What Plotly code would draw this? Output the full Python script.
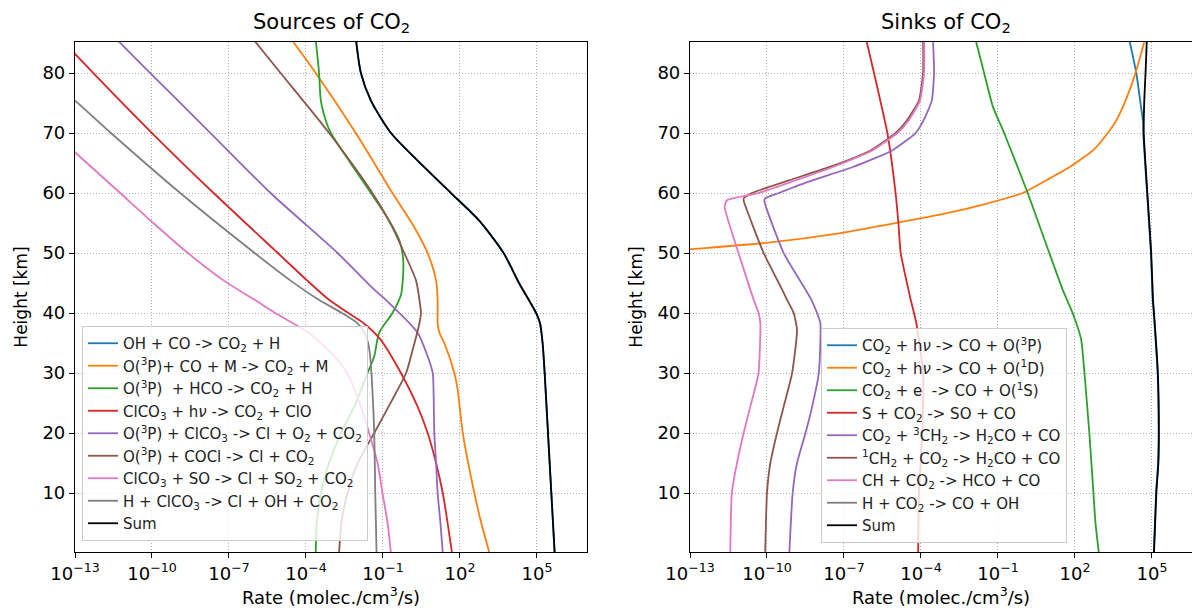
import numpy as np
import plotly.graph_objects as go

# ---------------- data (heights in km, rates given as log10 of molec./cm3/s) ----------------
# Sources of CO2
src_labels = [
    "OH + CO -&gt; CO<sub>2</sub> + H",
    "O(<sup>3</sup>P)+ CO + M -&gt; CO<sub>2</sub> + M",
    "O(<sup>3</sup>P)  + HCO -&gt; CO<sub>2</sub> + H",
    "ClCO<sub>3</sub> + h<i>ν</i> -&gt; CO<sub>2</sub> + ClO",
    "O(<sup>3</sup>P) + ClCO<sub>3</sub> -&gt; Cl + O<sub>2</sub> + CO<sub>2</sub>",
    "O(<sup>3</sup>P) + COCl -&gt; Cl + CO<sub>2</sub>",
    "ClCO<sub>3</sub> + SO -&gt; Cl + SO<sub>2</sub> + CO<sub>2</sub>",
    "H + ClCO<sub>3</sub> -&gt; Cl + OH + CO<sub>2</sub>",
    "Sum",
]
src_sum_h = [0, 10, 20, 30, 35, 38.3, 40, 42.2, 45, 50, 55.4, 60, 65.4, 70, 75.4, 80, 85.5]
src_sum_v = [5.69, 5.56, 5.43, 5.30, 5.22, 5.12, 4.97, 4.68, 4.30, 3.70, 2.75, 1.65, 0.35, -0.69, -1.47, -1.86, -2.05]
src_oh_h = src_sum_h
src_oh_v = src_sum_v
src_o3p_m_h = [0, 5, 10, 20, 27.2, 30, 35, 36.7, 38.3, 40, 42.2, 45.4, 50, 54.3, 60, 70, 80, 85.5]
src_o3p_m_v = [3.15, 2.83, 2.56, 2.11, 1.91, 1.78, 1.39, 1.20, 1.13, 1.13, 1.13, 1.07, 0.74, 0.22, -0.63, -2.06, -3.62, -4.55]
src_hco_h = [0, 5, 10, 15, 20, 24.4, 30, 32.8, 36.7, 40, 43, 45.4, 48.8, 52.1, 55.4, 60, 64.9, 70, 71.6, 75.4, 80, 85.5]
src_hco_v = [-3.62, -3.58, -3.42, -3.10, -2.64, -2.12, -1.60, -1.34, -1.15, -0.63, -0.30, -0.23, -0.21, -0.36, -0.76, -1.47, -2.25, -3.03, -3.19, -3.42, -3.49, -3.62]
src_clco3_hv_h = [0, 5, 10, 15, 20, 24.4, 30, 35.6, 38.3, 40, 42.2, 45.4, 50, 60, 70, 83.2, 85.5]
src_clco3_hv_v = [1.69, 1.52, 1.33, 1.07, 0.74, 0.35, -0.30, -1.10, -1.75, -2.35, -3.10, -3.95, -5.10, -7.60, -10.00, -13.0, -13.5]
src_o3p_clco3_h = [0, 5, 10, 15, 20, 27.2, 30, 32.8, 36.7, 40, 42.2, 43.9, 50, 60, 70, 80, 85.5]
src_o3p_clco3_v = [1.33, 1.24, 1.13, 1.07, 1.00, 0.97, 0.94, 0.74, 0.35, -0.36, -0.89, -1.34, -2.77, -5.38, -7.72, -10.07, -11.35]
src_cocl_h = [0, 5, 10, 15, 20, 25.6, 30, 32.8, 38.3, 40, 42.2, 45.4, 50, 54.3, 60, 70, 80, 85.5]
src_cocl_v = [-2.71, -2.62, -2.38, -1.99, -1.34, -0.63, -0.10, 0.09, 0.42, 0.48, 0.42, 0.29, -0.17, -0.63, -1.41, -3.10, -4.99, -6.03]
src_so_h = [0, 5, 10, 15, 20, 24.4, 30, 32.8, 36.7, 40, 42.2, 45.4, 50, 55, 60, 66.8, 75, 85.5]
src_so_v = [-0.69, -0.82, -1.02, -1.21, -1.54, -1.86, -2.40, -2.90, -3.90, -5.20, -6.00, -7.20, -8.60, -9.95, -11.24, -13.0, -15.1, -17.8]
src_h_clco3_h = [0, 10, 20, 27, 32.8, 35, 36.7, 38.3, 40, 42.2, 45.4, 50, 60, 70, 75.4, 85.5]
src_h_clco3_v = [-1.25, -1.30, -1.34, -1.41, -1.50, -1.58, -1.72, -2.00, -2.60, -3.50, -4.60, -6.00, -8.90, -11.60, -13.0, -15.9]

# Sinks of CO2
snk_labels = [
    "CO<sub>2</sub> + h<i>ν</i> -&gt; CO + O(<sup>3</sup>P)",
    "CO<sub>2</sub> + h<i>ν</i> -&gt; CO + O(<sup>1</sup>D)",
    "CO<sub>2</sub> + e  -&gt; CO + O(<sup>1</sup>S)",
    "S + CO<sub>2</sub> -&gt; SO + CO",
    "CO<sub>2</sub> + <sup>3</sup>CH<sub>2</sub> -&gt; H<sub>2</sub>CO + CO",
    "<sup>1</sup>CH<sub>2</sub> + CO<sub>2</sub> -&gt; H<sub>2</sub>CO + CO",
    "CH + CO<sub>2</sub> -&gt; HCO + CO",
    "H + CO<sub>2</sub> -&gt; CO + OH",
    "Sum",
]
snk_o3p_h = [0, 10, 15, 20, 30, 40, 42.2, 50, 60, 70, 71.6, 75.4, 80, 85.5]
snk_o3p_v = [5.07, 5.16, 5.24, 5.26, 5.22, 5.07, 5.03, 4.96, 4.81, 4.66, 4.66, 4.54, 4.39, 4.12]
snk_o1d_h = [50.0, 50.6, 51.8, 53.2, 55, 56.6, 58.2, 60, 62.1, 64.3, 67.1, 70, 72.1, 75.4, 80, 85.5]
snk_o1d_v = [-14.6, -13.0, -9.80, -7.33, -4.99, -3.03, -1.47, -0.04, 0.87, 1.78, 2.70, 3.28, 3.61, 3.97, 4.36, 4.72]
snk_o1s_h = [0, 5, 10, 20, 30, 35.6, 40, 43.9, 50, 60, 70, 74.4, 80, 85.5]
snk_o1s_v = [2.93, 2.80, 2.72, 2.56, 2.37, 2.24, 1.91, 1.52, 1.00, 0.16, -0.76, -1.20, -1.54, -1.87]
snk_s_h = [0, 10, 20, 30, 38.3, 42.2, 43.9, 50, 55, 60, 70, 80, 85.5]
snk_s_v = [-4.11, -4.08, -3.95, -3.92, -4.18, -4.40, -4.49, -4.79, -4.88, -4.99, -5.31, -5.83, -6.13]
snk_3ch2_h = [0, 10, 15, 20, 24.4, 30, 38.3, 40, 42.2, 43.9, 50, 58.6, 59.1, 60, 62.1, 64.3, 67.1, 70, 72.1, 75.4, 80, 85.5]
snk_3ch2_v = [-9.13, -9.00, -8.83, -8.50, -8.24, -7.98, -7.92, -8.05, -8.27, -8.50, -9.35, -10.10, -10.07, -9.54, -8.24, -6.68, -5.12, -4.21, -3.90, -3.58, -3.49, -3.53]
snk_1ch2_h = [0, 10, 15, 20, 24.4, 30, 37.2, 40, 42.2, 43.9, 50, 58.6, 59.1, 60, 62.1, 64.3, 67.1, 70, 72.1, 75.4, 80, 85.5]
snk_1ch2_v = [-10.07, -10.00, -9.87, -9.61, -9.35, -9.02, -8.83, -8.96, -9.22, -9.41, -10.13, -10.90, -10.91, -10.59, -9.15, -7.59, -5.96, -4.99, -4.55, -4.08, -3.92, -3.92]
snk_ch_h = [0, 10, 15, 20, 24.4, 30, 38.3, 40, 42.2, 43.9, 50, 57.7, 58.8, 60, 62.1, 64.3, 67.1, 70, 72.1, 75.4, 80, 85.5]
snk_ch_v = [-11.43, -11.37, -11.17, -10.91, -10.65, -10.33, -10.26, -10.33, -10.52, -10.65, -11.11, -11.65, -11.56, -10.33, -8.89, -7.46, -5.90, -4.92, -4.48, -4.04, -3.88, -3.88]
snk_h_h = [0, 20, 40, 60, 85.5]
snk_h_v = [-16.5, -16.3, -16.0, -16.2, -16.5]
snk_sum_h = [0, 10, 15, 20, 30, 40, 42.2, 50, 60, 70, 75.4, 80, 85.5]
snk_sum_v = [5.08, 5.17, 5.25, 5.27, 5.23, 5.08, 5.04, 4.97, 4.82, 4.68, 4.70, 4.75, 4.80]

colors = ["#1f77b4", "#ff7f0e", "#2ca02c", "#d62728", "#9467bd",
          "#8c564b", "#e377c2", "#7f7f7f", "#000000"]

src_series = [(src_oh_h, src_oh_v), (src_o3p_m_h, src_o3p_m_v), (src_hco_h, src_hco_v),
              (src_clco3_hv_h, src_clco3_hv_v), (src_o3p_clco3_h, src_o3p_clco3_v),
              (src_cocl_h, src_cocl_v), (src_so_h, src_so_v), (src_h_clco3_h, src_h_clco3_v),
              (src_sum_h, src_sum_v)]
snk_series = [(snk_o3p_h, snk_o3p_v), (snk_o1d_h, snk_o1d_v), (snk_o1s_h, snk_o1s_v),
              (snk_s_h, snk_s_v), (snk_3ch2_h, snk_3ch2_v), (snk_1ch2_h, snk_1ch2_v),
              (snk_ch_h, snk_ch_v), (snk_h_h, snk_h_v), (snk_sum_h, snk_sum_v)]

xtick_exps = [-13, -10, -7, -4, -1, 2, 5]
ytick_vals = [10, 20, 30, 40, 50, 60, 70, 80]

# ---------------- figure ----------------
fig = go.Figure()
FONT = "DejaVu Sans"

for i, (lab, (h, v)) in enumerate(zip(src_labels, src_series)):
    fig.add_trace(go.Scatter(x=10.0 ** np.array(v), y=h, mode="lines", name=lab,
                             line=dict(color=colors[i], width=1.8, shape="spline", smoothing=0.7),
                             xaxis="x", yaxis="y", legend="legend"))
for i, (lab, (h, v)) in enumerate(zip(snk_labels, snk_series)):
    fig.add_trace(go.Scatter(x=10.0 ** np.array(v), y=h, mode="lines", name=lab,
                             line=dict(color=colors[i], width=1.8, shape="spline", smoothing=0.5),
                             xaxis="x2", yaxis="y2", legend="legend2"))

W, H = 1192, 610
ML, MR, MT, MB = 75, 0, 42, 58
PW = W - ML - MR
PH = H - MT - MB
px_per_dec = 512 / 19.95
left_dom = [0, 512 / PW]
right_dom = [615 / PW, 1]
right_end = -13 + (PW - 615) / px_per_dec

tickvals = [10.0 ** e for e in xtick_exps]
ticktext = ["10<sup>%s</sup>" % (str(e).replace("-", "\u2212")) for e in xtick_exps]

axis_common = dict(showline=True, linecolor="black", linewidth=1.2,
                   ticks="outside", ticklen=5, tickwidth=1.2, tickcolor="black",
                   showgrid=True, gridcolor="#b0b0b0", griddash="1px,2px", gridwidth=1,
                   zeroline=False, tickfont=dict(family=FONT, size=18, color="black"))

xtitle = dict(text="Rate (molec./cm<sup>3</sup>/s)", font=dict(family=FONT, size=18), standoff=8)
ytitle = dict(text="Height [km]", font=dict(family=FONT, size=17), standoff=10)

fig.update_layout(
    width=W, height=H,
    margin=dict(l=ML, r=MR, t=MT, b=MB),
    paper_bgcolor="white", plot_bgcolor="white",
    font=dict(family=FONT, color="black"),
    showlegend=True,
    xaxis=dict(type="log", domain=left_dom, range=[-13, -13 + 19.95], mirror=True,
               tickvals=tickvals, ticktext=ticktext, anchor="y", title=xtitle, **axis_common),
    xaxis2=dict(type="log", domain=right_dom, range=[-13, right_end], mirror=True,
                tickvals=tickvals, ticktext=ticktext, anchor="y2", title=xtitle, **axis_common),
    yaxis=dict(range=[0.17, 85.17], tickvals=ytick_vals, anchor="x", mirror=True,
               title=ytitle, **axis_common),
    yaxis2=dict(range=[0.17, 85.17], tickvals=ytick_vals, anchor="x2", mirror=False,
                title=ytitle, **axis_common),
    legend=dict(x=(82 - ML) / PW, y=(H - MB - 541) / PH, xanchor="left", yanchor="bottom",
                bgcolor="rgba(255,255,255,0.8)", bordercolor="#cccccc", borderwidth=1,
                font=dict(family=FONT, size=15, color="#222222")),
    legend2=dict(x=(821 - ML) / PW, y=(H - MB - 543) / PH, xanchor="left", yanchor="bottom",
                 bgcolor="rgba(255,255,255,0.8)", bordercolor="#cccccc", borderwidth=1,
                 font=dict(family=FONT, size=15, color="#222222")),
    annotations=[
        dict(text="Sources of CO<sub>2</sub>", x=sum(left_dom) / 2, y=1, xref="paper", yref="paper",
             xanchor="center", yanchor="bottom", yshift=4, showarrow=False,
             font=dict(family=FONT, size=21, color="black")),
        dict(text="Sinks of CO<sub>2</sub>", x=(946 - ML) / PW, y=1, xref="paper", yref="paper",
             xanchor="center", yanchor="bottom", yshift=4, showarrow=False,
             font=dict(family=FONT, size=21, color="black")),
    ],
)

fig.write_html("out.html")
